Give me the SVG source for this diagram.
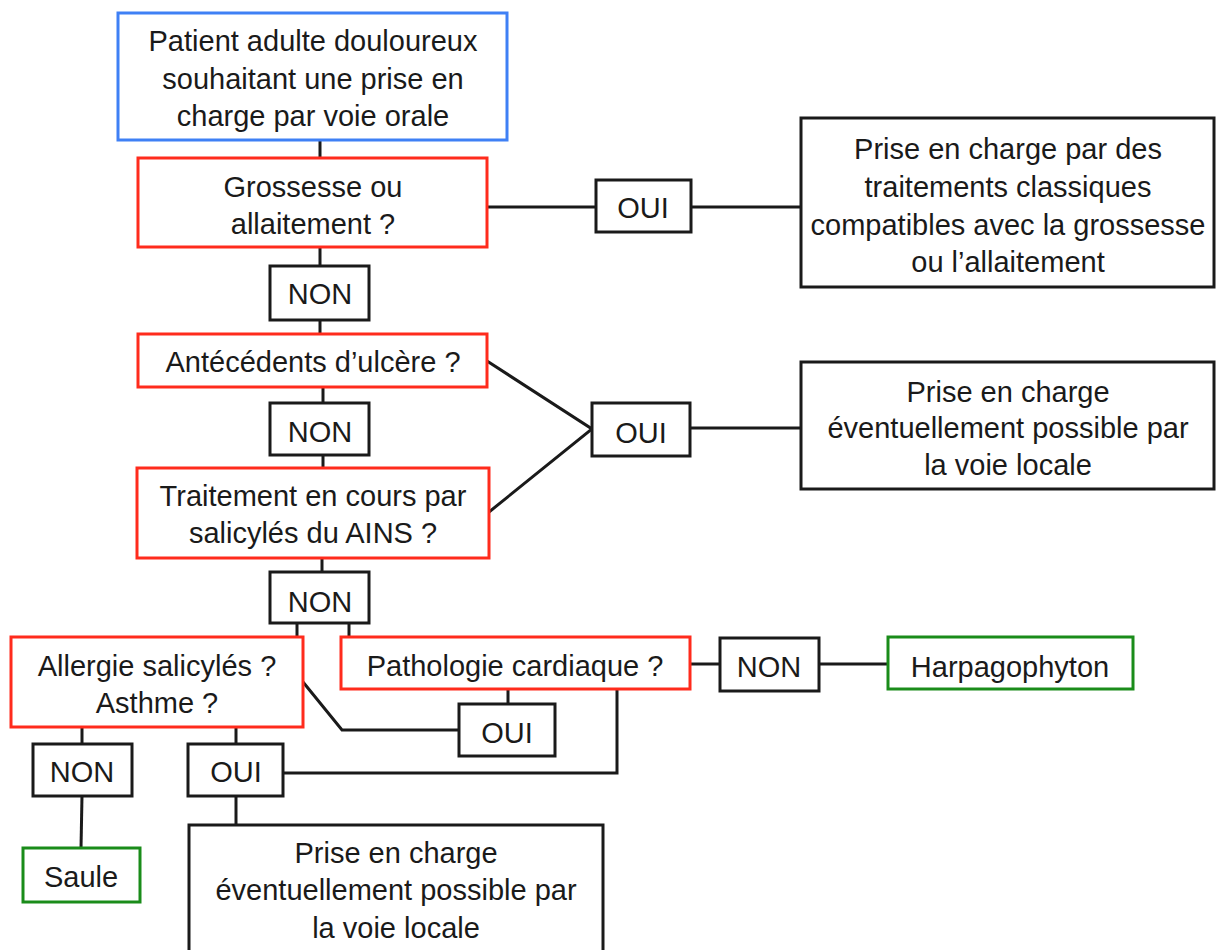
<svg xmlns="http://www.w3.org/2000/svg" width="1216" height="950" viewBox="0 0 1216 950">
<style>
rect{fill:#fff;stroke-width:3}
.k{stroke:#1a1a1a}
.r{stroke:#ff2b1c}
.b{stroke:#3f80f5}
.g{stroke:#1a8c1a}
text{font-family:"Liberation Sans",Arial,sans-serif;font-size:29px;fill:#1a1a1a;text-anchor:middle}
#connectors path{fill:none;stroke:#1a1a1a;stroke-width:3}
</style>
<rect width="1216" height="950" style="fill:#fff;stroke:none"/>
<g id="connectors">
<path d="M320 140V158"/>
<path d="M320 247V266"/>
<path d="M320 320V334"/>
<path d="M323 387V403"/>
<path d="M323 455V468"/>
<path d="M322 558V572"/>
<path d="M487 207H596"/>
<path d="M691 207H801"/>
<path d="M487 361L592 429L489 512"/>
<path d="M690 428H801"/>
<path d="M297 623V637"/>
<path d="M349 623V637"/>
<path d="M690 664H720"/>
<path d="M819 664H888"/>
<path d="M303 682L342 730H459"/>
<path d="M508 689V704"/>
<path d="M617 689V773H283"/>
<path d="M82 727V744"/>
<path d="M236 727V744"/>
<path d="M82 796L81 848"/>
<path d="M236 796V825"/>
</g>
<g id="start"><rect class="b" x="118" y="13" width="389" height="127"/>
<text x="313" y="51">Patient adulte douloureux</text><text x="313" y="89">souhaitant une prise en</text><text x="313" y="126">charge par voie orale</text></g>
<g id="q-grossesse"><rect class="r" x="138" y="158" width="349" height="89"/>
<text x="313" y="197">Grossesse ou</text><text x="313" y="234">allaitement ?</text></g>
<g id="oui1"><rect class="k" x="596" y="180" width="95" height="52"/><text x="643" y="218">OUI</text></g>
<g id="r-classiques"><rect class="k" x="801" y="118" width="413" height="169"/>
<text x="1008" y="159">Prise en charge par des</text><text x="1008" y="197">traitements classiques</text><text x="1008" y="235">compatibles avec la grossesse</text><text x="1008" y="272">ou l’allaitement</text></g>
<g id="non1"><rect class="k" x="270" y="266" width="99" height="54"/><text x="320" y="304">NON</text></g>
<g id="q-ulcere"><rect class="r" x="138" y="334" width="349" height="53"/><text x="313" y="372">Antécédents d’ulcère ?</text></g>
<g id="non2"><rect class="k" x="270" y="403" width="99" height="52"/><text x="320" y="442">NON</text></g>
<g id="oui2"><rect class="k" x="592" y="403" width="98" height="53"/><text x="641" y="443">OUI</text></g>
<g id="r-locale1"><rect class="k" x="801" y="362" width="413" height="127"/>
<text x="1008" y="402">Prise en charge</text><text x="1008" y="438">éventuellement possible par</text><text x="1008" y="475">la voie locale</text></g>
<g id="q-traitement"><rect class="r" x="137" y="468" width="352" height="90"/>
<text x="313" y="506">Traitement en cours par</text><text x="313" y="543">salicylés du AINS ?</text></g>
<g id="non3"><rect class="k" x="270" y="572" width="99" height="51"/><text x="320" y="612">NON</text></g>
<g id="q-allergie"><rect class="r" x="11" y="637" width="292" height="90"/>
<text x="157" y="676">Allergie salicylés ?</text><text x="157" y="713">Asthme ?</text></g>
<g id="q-cardiaque"><rect class="r" x="341" y="637" width="349" height="52"/><text x="515" y="676">Pathologie cardiaque ?</text></g>
<g id="non4"><rect class="k" x="720" y="638" width="99" height="53"/><text x="769" y="677">NON</text></g>
<g id="harpagophyton"><rect class="g" x="888" y="637" width="245" height="52"/><text x="1010" y="677">Harpagophyton</text></g>
<g id="oui3"><rect class="k" x="459" y="704" width="96" height="52"/><text x="507" y="743">OUI</text></g>
<g id="non5"><rect class="k" x="33" y="744" width="99" height="52"/><text x="82" y="782">NON</text></g>
<g id="oui4"><rect class="k" x="188" y="744" width="95" height="52"/><text x="236" y="782">OUI</text></g>
<g id="saule"><rect class="g" x="23" y="848" width="117" height="54"/><text x="81" y="887">Saule</text></g>
<g id="r-locale2"><rect class="k" x="189" y="825" width="414" height="140"/>
<text x="396" y="863">Prise en charge</text><text x="396" y="900">éventuellement possible par</text><text x="396" y="938">la voie locale</text></g>
</svg>
